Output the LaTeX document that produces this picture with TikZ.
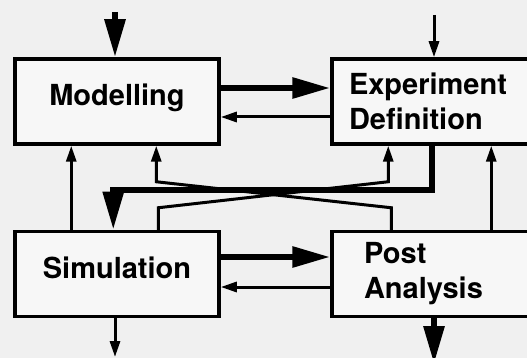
\documentclass[tikz,border=0pt]{standalone}
\usepackage{fontspec}
\setmainfont{TeX Gyre Heros}
\usetikzlibrary{arrows.meta}
\usetikzlibrary{calc}
\tikzset{
	box/.style={shape=rectangle,draw,line width=3.5pt,fill=black!3,minimum height=85pt,font=\fontsize{29}{35}\selectfont\bfseries},
	flow/.style={line width=3pt,-{Triangle[length=16pt,width=10pt]}},
	mainflow/.style={line width=6pt,-{Triangle[length=38pt,width=20pt]}},
}
\newcommand{\drawbox}[4]{
	\draw #1 node (#2) [box,#3] {#4};
}

\begin{document}
\begin{tikzpicture}[x=1pt,y=-1pt]
	\useasboundingbox[fill=black!6] (0,0) rectangle (527,358);
	\clip (0,0) rectangle (527,358);
	\drawbox{(117,101.5)}{mod}{minimum width=204pt,text height=21pt,text depth=12pt}{Modelling}
	\drawbox{(117,274)}{sim}{minimum width=204pt,text height=21pt,text depth=12pt}{Simulation}
	\drawbox{(446,101.5)}{exp}{minimum width=228pt,inner xsep=17pt,text width=194pt,align=left}{Experiment\\Definition}
	\drawbox{(446,274)}{post}{minimum width=228pt,inner xsep=32pt,text width=164pt,align=left}{Post\\Analysis}
	\coordinate (modin) at (115,12);
	\coordinate (expin) at (434,15);
	\coordinate (simout) at (115,357);
	\coordinate (postout) at (434,364);
	\draw[mainflow] (modin) -- (modin |- mod.north);
	\draw[flow] (expin) -- (expin |- exp.north);
	\draw[mainflow] ([yshift=13.5pt]mod.east) -- ([yshift=13.5pt]mod.east -| exp.west);
	\draw[flow] ([yshift=-15.5pt]exp.west) -- ([yshift=-15.5pt]exp.west -| mod.east);
	\draw[mainflow] ([yshift=17pt]sim.east) -- ([yshift=17pt]sim.east -| post.west);
	\draw[flow] ([yshift=-13pt]post.west) -- ([yshift=-13pt]post.west -| sim.east);
	\draw[flow] ([xshift=58pt]sim.north west) -- ([xshift=58pt]mod.south west);
	\draw[flow] ([xshift=61pt]post.north west) -- ++(0,-22) -- ([xshift=143pt,yshift=-36pt]mod.south west) -- ([xshift=143pt]mod.south west);
	\draw[flow] ([xshift=145pt]sim.north west) -- ++(0,-22) -- ([xshift=58pt,yshift=-36pt]exp.south west) -- ([xshift=58pt]exp.south west);
	\draw[mainflow] ([xshift=102pt]exp.south west) -- ++(0,44) -| ([xshift=100pt]sim.north west);
	\draw[flow] ([xshift=161pt]post.north west) -- ([xshift=161pt]exp.south west);
	\draw[flow] (simout |- sim.south) -- (simout);
	\draw[mainflow] (postout |- post.south) -- (postout);
\end{tikzpicture}
\end{document}
